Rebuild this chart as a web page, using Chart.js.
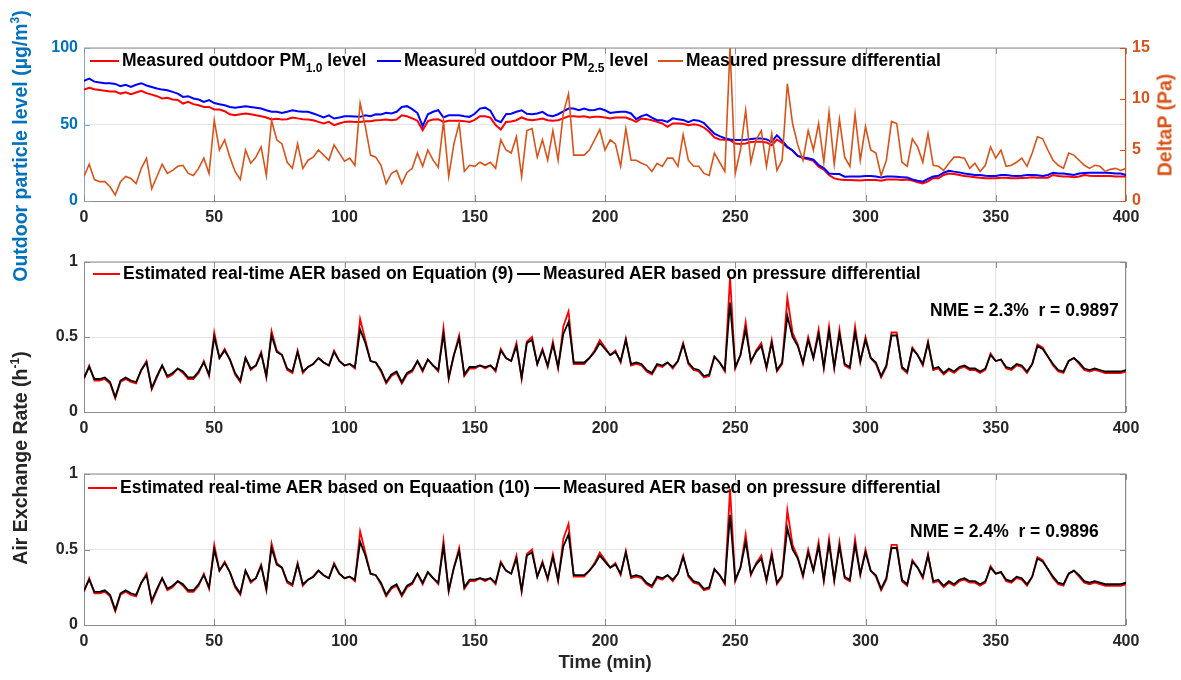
<!DOCTYPE html>
<html>
<head>
<meta charset="utf-8">
<script src="https://cdn.jsdelivr.net/npm/chart.js@4.4.0/dist/chart.umd.min.js"></script>
<style>
  body { margin: 0; background: #fff; width: 1181px; height: 680px; position: relative; overflow: hidden;
         font-family: "Liberation Sans", Arial, sans-serif; font-weight: bold; color: #000; }
  canvas { position: absolute; left: 0; }
  .lg { position: absolute; font-size: 17.5px; white-space: nowrap; line-height: 20px; transform: translateY(-50%); }
  .lg .ln { display: inline-block; height: 0; border-top: 2px solid; vertical-align: middle; margin-right: 3px; }
  .lg sub { font-size: 12px; line-height: 0; vertical-align: -6px; }
  .note { position: absolute; font-size: 17.5px; white-space: nowrap; transform: translateY(-50%); }
  .ytitle { position: absolute; white-space: nowrap; font-size: 19.5px; transform: translate(-50%, -50%) rotate(-90deg); }
  .ytitle sup { font-size: 12px; line-height: 0; }
  .xtitle { position: absolute; font-size: 18.5px; white-space: nowrap; transform: translate(-50%, -50%); color: #262626; }
</style>
</head>
<body>
<canvas id="pmChart" width="1181" height="229" style="top:0px"></canvas>
<canvas id="aer9Chart" width="1181" height="200" style="top:240px"></canvas>
<canvas id="aer10Chart" width="1181" height="203" style="top:450px"></canvas>

<!-- legends -->
<div class="lg" style="left:90px; top:60px"><span class="ln" style="width:29px; border-color:#ff0000"></span>Measured outdoor PM<sub>1.0</sub> level</div>
<div class="lg" style="left:377px; top:60px"><span class="ln" style="width:24px; border-color:#0000ff"></span>Measured outdoor PM<sub>2.5</sub> level</div>
<div class="lg" style="left:658px; top:60px"><span class="ln" style="width:25px; border-color:#d95319"></span>Measured pressure differential</div>

<div class="lg" style="left:93px; top:273px"><span class="ln" style="width:27px; border-color:#ff0000"></span>Estimated real-time AER based on Equation (9)</div>
<div class="lg" style="left:517px; top:273px"><span class="ln" style="width:23px; border-color:#000"></span>Measured AER based on pressure differential</div>
<div class="note" style="left:930px; top:310px">NME = 2.3%&nbsp; r = 0.9897</div>

<div class="lg" style="left:88px; top:487px"><span class="ln" style="width:29px; border-color:#ff0000"></span>Estimated real-time AER based on Equaation (10)</div>
<div class="lg" style="left:534px; top:487px"><span class="ln" style="width:26px; border-color:#000"></span>Measured AER based on pressure differential</div>
<div class="note" style="left:910px; top:531px">NME = 2.4%&nbsp; r = 0.9896</div>

<!-- axis titles -->
<div class="ytitle" style="left:20px; top:146px; color:#0072bd">Outdoor particle level (µg/m<sup>3</sup>)</div>
<div class="ytitle" style="left:1165px; top:125px; color:#d95319">DeltaP (Pa)</div>
<div class="ytitle" style="left:20px; top:458px; color:#262626">Air Exchange Rate (h<sup>-1</sup>)</div>
<div class="xtitle" style="left:605px; top:662px">Time (min)</div>

<script>
// sampling step of the readings (minutes)
const STEP = 2;

// outdoor PM1.0 (ug/m3), every 2 min from 0 to 400
const pm10 = [
  72.8, 74, 73, 72.5, 72, 71.5, 71.5, 70.2, 71, 69.8,
  70.9, 72, 70.5, 69.5, 68.5, 67, 67.5, 66.3, 66, 63.7,
  64.8, 63.3, 62.6, 61.5, 61.5, 59.8, 59.8, 58.7, 56.7, 56,
  56.7, 57.2, 56.7, 56, 55.4, 54.6, 53.3, 53.7, 53.3, 53.5,
  54.6, 54, 53.5, 53.3, 52.8, 51.7, 50.7, 51.7, 49.6, 50.7,
  51.7, 51.9, 51.7, 51.7, 52.2, 52.2, 52.8, 53, 53.3, 52.8,
  53.3, 56, 55.4, 54, 52.5, 46.3, 52.2, 53.3, 53.5, 51.7,
  52.4, 52.4, 52.4, 52.2, 51.7, 53, 55.4, 55.4, 54.5, 49.6,
  46.7, 51.7, 52, 52.8, 54.6, 53.3, 52.8, 53.3, 53.9, 52.8,
  52.4, 52.8, 54, 55.4, 55.4, 55, 55.4, 54.6, 55, 55,
  54.6, 54, 54.6, 54.6, 54.6, 53.3, 51.7, 53.9, 53.5, 52.8,
  51.7, 50.7, 48.5, 50.7, 50.7, 50.5, 49.6, 50.2, 49.6, 48,
  45.2, 41.5, 40.2, 40, 39.8, 37.6, 37.2, 37.6, 38.5, 38.7,
  38.7, 38.3, 36.5, 40.2, 38, 35, 33, 29.5, 28, 27.2,
  26.3, 22.4, 20.5, 17, 14.8, 14, 13.7, 13.7, 13.6, 13.4,
  13.7, 13.7, 13.7, 13.3, 14.1, 14.1, 14.1, 13.7, 14.1, 13.3,
  12.2, 11.5, 12.8, 15, 14.8, 17, 18, 17.6, 17, 16.3,
  16, 15.6, 15.2, 14.8, 14.8, 14.8, 15.2, 15.2, 14.8, 14.8,
  15, 15.2, 15.6, 15.2, 15.2, 15.2, 17, 16.3, 16, 16,
  15.6, 16, 17, 16.5, 16.3, 16.3, 16.3, 16.3, 16, 16,
  16
];

// outdoor PM2.5 (ug/m3)
const pm25 = [
  78.5, 80, 78, 77.5, 77, 77, 76.5, 75, 76, 74.5,
  76, 77, 75.5, 74.5, 73.5, 72.8, 72.4, 71.3, 70.2, 68,
  68.5, 67, 66.3, 64.8, 65.9, 64, 63.3, 62.6, 61.5, 61,
  61.5, 62, 61.5, 61, 60.4, 59.3, 58.3, 58.3, 57.6, 58.3,
  59.3, 58.7, 58.3, 58.3, 57.2, 56, 54.6, 56, 53.9, 54.6,
  55.4, 55.4, 55.2, 55, 56, 55.4, 56.7, 56.5, 57.6, 57.2,
  58.3, 61.5, 62, 60, 57.5, 49, 56.7, 58.3, 59.3, 54.6,
  56, 56, 56, 55.4, 55, 57, 60.4, 61, 59, 53,
  51.5, 56.7, 57, 58.3, 59.3, 57, 56.7, 57.2, 58.3, 56,
  55.4, 56.7, 58.5, 60.4, 60.4, 59.3, 60.4, 59.3, 59.5, 60.4,
  59.3, 57.6, 58, 58.3, 58.3, 57.2, 53.5, 55.5, 56.5, 54.5,
  52.8, 52.8, 51.7, 54, 53.5, 53, 51.5, 53, 52.5, 51,
  47.4, 44, 42.4, 41, 40.2, 39.8, 39.8, 40, 40.5, 40.9,
  40.9, 40.3, 38.7, 43, 39.5, 35.4, 33, 29.5, 28.5, 28,
  27, 23.5, 21.5, 18, 17.6, 17.6, 15.9, 16, 16, 16,
  16.3, 16.3, 16, 15.4, 16, 16, 15.8, 15.6, 15.4, 14.1,
  13.3, 12.6, 14.5, 16, 16.5, 18.5, 19.8, 19.2, 18.7, 18,
  17.5, 17, 17, 16.5, 16.3, 16.3, 17, 17, 16.5, 16.3,
  16.5, 17, 17, 16.8, 16.3, 17, 18.5, 18, 18, 17.5,
  17, 18, 18.3, 18.5, 18.5, 18.5, 18.5, 18.3, 18, 18,
  17
];

// measured pressure differential (Pa)
const deltaP = [
  2.4, 3.6, 2.1, 1.9, 1.9, 1.4, 0.6, 1.9, 2.4, 2.2,
  1.7, 3.2, 4.2, 1.2, 2.4, 3.6, 2.7, 3.0, 3.4, 3.5,
  2.7, 2.5, 3.2, 4.2, 2.7, 7.9, 5.0, 6.0, 4.3, 2.9,
  2.1, 5.0, 3.7, 4.3, 5.3, 2.5, 7.9, 6.0, 5.6, 3.8,
  3.2, 5.6, 3.2, 4.0, 4.3, 5.0, 4.5, 4.0, 5.5, 4.7,
  3.9, 4.2, 3.5, 9.6, 7.3, 4.5, 4.3, 3.5, 1.7, 2.7,
  3.0, 1.7, 2.8, 3.2, 4.7, 3.4, 5.0, 4.0, 3.3, 7.8,
  2.4, 5.6, 7.6, 2.9, 3.5, 3.4, 3.8, 3.5, 3.8, 3.2,
  6.0, 5.0, 4.7, 6.3, 2.4, 6.9, 7.1, 4.3, 6.0, 4.0,
  6.9, 4.0, 8.6, 10.5, 4.5, 4.5, 4.5, 5.0, 6.0, 7.0,
  5.0, 6.0, 5.6, 3.4, 7.1, 4.0, 4.0, 3.7, 3.5, 2.9,
  3.7, 3.4, 4.2, 4.2, 3.4, 6.5, 4.0, 3.4, 3.4, 2.7,
  2.5, 4.7, 3.8, 2.9, 15.0, 2.7, 5.0, 8.9, 3.8, 6.0,
  6.9, 3.4, 6.6, 3.0, 4.0, 11.5, 7.6, 5.5, 4.0, 6.9,
  5.0, 7.6, 3.8, 8.7, 3.6, 8.0, 4.3, 3.4, 8.5, 4.0,
  7.3, 5.0, 4.7, 2.5, 4.0, 7.8, 7.6, 3.8, 3.4, 6.1,
  5.3, 3.8, 6.6, 3.5, 3.4, 3.0, 3.7, 4.3, 4.3, 4.2,
  3.2, 3.7, 2.9, 3.5, 5.3, 4.2, 5.0, 3.4, 3.5, 3.8,
  4.2, 3.4, 4.7, 6.3, 6.1, 5.0, 4.0, 3.5, 3.2, 4.7,
  4.5, 4.0, 3.5, 3.2, 3.5, 3.4, 2.9, 3.1, 3.2, 3.0,
  3.2
];

// measured AER from pressure differential (1/h)
const aerMeasured = [
  0.23, 0.30, 0.22, 0.22, 0.23, 0.20, 0.10, 0.21, 0.23, 0.21,
  0.20, 0.28, 0.33, 0.16, 0.24, 0.31, 0.24, 0.26, 0.29, 0.27,
  0.23, 0.23, 0.27, 0.33, 0.25, 0.50, 0.36, 0.41, 0.35, 0.26,
  0.21, 0.36, 0.29, 0.31, 0.39, 0.24, 0.51, 0.40, 0.38, 0.29,
  0.27, 0.40, 0.27, 0.30, 0.32, 0.36, 0.33, 0.31, 0.40, 0.34,
  0.31, 0.32, 0.30, 0.55, 0.46, 0.34, 0.33, 0.28, 0.20, 0.25,
  0.27, 0.20, 0.26, 0.28, 0.34, 0.28, 0.35, 0.31, 0.28, 0.52,
  0.23, 0.38, 0.49, 0.25, 0.30, 0.30, 0.31, 0.30, 0.31, 0.28,
  0.41, 0.36, 0.34, 0.44, 0.23, 0.46, 0.48, 0.32, 0.41, 0.31,
  0.45, 0.30, 0.52, 0.60, 0.33, 0.33, 0.33, 0.36, 0.40, 0.46,
  0.42, 0.38, 0.40, 0.34, 0.48, 0.32, 0.33, 0.32, 0.28, 0.26,
  0.32, 0.31, 0.33, 0.30, 0.34, 0.45, 0.33, 0.29, 0.28, 0.24,
  0.25, 0.37, 0.33, 0.28, 0.73, 0.30, 0.38, 0.55, 0.34, 0.40,
  0.44, 0.30, 0.46, 0.28, 0.33, 0.64, 0.50, 0.44, 0.33, 0.48,
  0.36, 0.52, 0.30, 0.54, 0.30, 0.52, 0.32, 0.30, 0.53, 0.34,
  0.48, 0.36, 0.33, 0.24, 0.31, 0.51, 0.51, 0.30, 0.27, 0.42,
  0.38, 0.32, 0.46, 0.29, 0.30, 0.26, 0.29, 0.27, 0.30, 0.31,
  0.29, 0.29, 0.27, 0.29, 0.38, 0.34, 0.35, 0.30, 0.29, 0.32,
  0.31, 0.27, 0.32, 0.44, 0.42, 0.37, 0.32, 0.28, 0.27, 0.34,
  0.36, 0.33, 0.29, 0.28, 0.29, 0.28, 0.27, 0.27, 0.27, 0.27,
  0.28
];

// estimated real-time AER, Equation (9)
const aerEq9 = [
  0.22, 0.31, 0.21, 0.21, 0.22, 0.19, 0.09, 0.20, 0.22, 0.20,
  0.19, 0.28, 0.34, 0.15, 0.23, 0.31, 0.23, 0.25, 0.29, 0.26,
  0.22, 0.22, 0.26, 0.34, 0.24, 0.53, 0.36, 0.42, 0.35, 0.25,
  0.20, 0.36, 0.28, 0.31, 0.40, 0.23, 0.54, 0.41, 0.38, 0.28,
  0.26, 0.41, 0.26, 0.30, 0.32, 0.36, 0.33, 0.31, 0.41, 0.34,
  0.31, 0.32, 0.29, 0.62, 0.48, 0.34, 0.33, 0.27, 0.19, 0.24,
  0.26, 0.19, 0.25, 0.27, 0.34, 0.27, 0.35, 0.31, 0.27, 0.56,
  0.22, 0.38, 0.51, 0.24, 0.29, 0.29, 0.31, 0.29, 0.31, 0.27,
  0.42, 0.36, 0.34, 0.46, 0.22, 0.47, 0.50, 0.32, 0.42, 0.30,
  0.47, 0.29, 0.57, 0.67, 0.32, 0.32, 0.32, 0.36, 0.41, 0.48,
  0.43, 0.38, 0.41, 0.33, 0.49, 0.31, 0.32, 0.31, 0.27, 0.25,
  0.31, 0.30, 0.33, 0.29, 0.34, 0.46, 0.32, 0.28, 0.27, 0.23,
  0.24, 0.37, 0.33, 0.27, 0.90, 0.29, 0.38, 0.60, 0.33, 0.41,
  0.46, 0.29, 0.48, 0.27, 0.32, 0.76, 0.53, 0.45, 0.32, 0.50,
  0.36, 0.55, 0.29, 0.57, 0.29, 0.55, 0.31, 0.29, 0.57, 0.33,
  0.50, 0.36, 0.32, 0.23, 0.30, 0.53, 0.53, 0.29, 0.26, 0.43,
  0.38, 0.31, 0.47, 0.28, 0.29, 0.25, 0.28, 0.26, 0.29, 0.30,
  0.28, 0.28, 0.26, 0.28, 0.39, 0.34, 0.35, 0.29, 0.28, 0.31,
  0.30, 0.26, 0.32, 0.45, 0.43, 0.37, 0.31, 0.27, 0.26, 0.34,
  0.36, 0.32, 0.28, 0.27, 0.28, 0.27, 0.26, 0.26, 0.26, 0.26,
  0.27
];

// Equation (10) estimate reads the same as Equation (9) in the picture
const aerEq10 = aerEq9;

const minutes = pm10.map((_, i) => i * STEP);
const pts = (arr) => arr.map((v, i) => ({ x: minutes[i], y: v }));

const FONT = '"Liberation Sans", Arial, sans-serif';
const tickFont = { family: FONT, size: 16, weight: 'bold' };

// frame around each plot area, MATLAB style with small inward ticks
const boxPlugin = {
  id: 'box',
  beforeDatasetsDraw(chart, args, opts) {
    const { ctx, chartArea: a, scales } = chart;
    ctx.save();
    ctx.lineWidth = 1;
    ctx.strokeStyle = opts.color || '#8c8c8c';
    ctx.beginPath();
    ctx.moveTo(a.left, a.top); ctx.lineTo(a.right, a.top);
    ctx.moveTo(a.left, a.bottom + 0.5); ctx.lineTo(a.right, a.bottom + 0.5);
    ctx.stroke();
    ctx.strokeStyle = opts.leftColor || '#8c8c8c';
    ctx.beginPath(); ctx.moveTo(a.left + 0.5, a.top); ctx.lineTo(a.left + 0.5, a.bottom); ctx.stroke();
    ctx.strokeStyle = opts.rightColor || '#8c8c8c';
    ctx.beginPath(); ctx.moveTo(a.right - 0.5, a.top); ctx.lineTo(a.right - 0.5, a.bottom); ctx.stroke();

    // inward ticks
    ctx.strokeStyle = '#8c8c8c';
    ctx.beginPath();
    scales.x.ticks.forEach((t) => {
      const px = Math.round(scales.x.getPixelForValue(t.value)) + 0.5;
      ctx.moveTo(px, a.bottom); ctx.lineTo(px, a.bottom - 6);
      ctx.moveTo(px, a.top); ctx.lineTo(px, a.top + 6);
    });
    ctx.stroke();
    ctx.strokeStyle = opts.leftColor || '#8c8c8c';
    ctx.beginPath();
    scales.y.ticks.forEach((t) => {
      const py = Math.round(scales.y.getPixelForValue(t.value)) + 0.5;
      ctx.moveTo(a.left, py); ctx.lineTo(a.left + 6, py);
      if (!scales.y1.options.ticks.display) { ctx.moveTo(a.right, py); ctx.lineTo(a.right - 6, py); }
    });
    ctx.stroke();
    if (scales.y1.options.ticks.display) {
      ctx.strokeStyle = opts.rightColor;
      ctx.beginPath();
      scales.y1.ticks.forEach((t) => {
        const py = Math.round(scales.y1.getPixelForValue(t.value)) + 0.5;
        ctx.moveTo(a.right, py); ctx.lineTo(a.right - 6, py);
      });
      ctx.stroke();
    }
    ctx.restore();
  }
};

function xAxis() {
  return {
    type: 'linear', min: 0, max: 400,
    ticks: { stepSize: 50, color: '#262626', font: tickFont, padding: 7, maxRotation: 0 },
    grid: { color: '#e4e4e4', drawTicks: false },
    border: { display: false },
    afterFit: (s) => { s.height = 28; }
  };
}

function leftAxis(min, max, step, color) {
  return {
    position: 'left', min: min, max: max,
    ticks: { stepSize: step, color: color, font: tickFont, padding: 6,
             callback: (v) => String(Math.round(v * 10) / 10) },
    grid: { color: '#e4e4e4', drawTicks: false },
    border: { display: false },
    afterFit: (s) => { s.width = 84; }
  };
}

function rightAxis(min, max, step, color, show) {
  return {
    position: 'right', min: min, max: max,
    ticks: { display: show, stepSize: step, color: color, font: tickFont, padding: 6 },
    grid: { display: false, drawTicks: false },
    border: { display: false },
    afterFit: (s) => { s.width = 55; }
  };
}

function line(label, data, color, width, axis) {
  return {
    label: label, data: pts(data), borderColor: color, borderWidth: width,
    pointRadius: 0, tension: 0, fill: false, yAxisID: axis || 'y'
  };
}

const baseOptions = (padTop, scales, box) => ({
  responsive: false,
  animation: false,
  layout: { padding: { top: padTop, left: 0, right: 0, bottom: 0 } },
  plugins: { legend: { display: false }, tooltip: { enabled: false }, box: box },
  scales: scales
});

// top panel: outdoor particles and pressure differential
new Chart(document.getElementById('pmChart'), {
  type: 'line',
  data: {
    datasets: [
      line('Measured pressure differential', deltaP, '#d95319', 1.6, 'y1'),
      line('Measured outdoor PM2.5 level', pm25, '#0000ff', 2),
      line('Measured outdoor PM1.0 level', pm10, '#ff0000', 2)
    ]
  },
  options: baseOptions(48, {
    x: xAxis(),
    y: leftAxis(0, 100, 50, '#0072bd'),
    y1: rightAxis(0, 15, 5, '#d95319', true)
  }, { leftColor: '#7fa8cc', rightColor: '#d95319' }),
  plugins: [boxPlugin]
});

// middle panel: Equation (9)
new Chart(document.getElementById('aer9Chart'), {
  type: 'line',
  data: {
    datasets: [
      line('Measured AER based on pressure differential', aerMeasured, '#000000', 1.8),
      line('Estimated real-time AER based on Equation (9)', aerEq9, '#ff0000', 1.8)
    ]
  },
  options: baseOptions(22, {
    x: xAxis(),
    y: leftAxis(0, 1, 0.5, '#262626'),
    y1: rightAxis(0, 1, 0.5, '#262626', false)
  }, {}),
  plugins: [boxPlugin]
});

// bottom panel: Equation (10)
new Chart(document.getElementById('aer10Chart'), {
  type: 'line',
  data: {
    datasets: [
      line('Measured AER based on pressure differential', aerMeasured, '#000000', 1.8),
      line('Estimated real-time AER based on Equaation (10)', aerEq10, '#ff0000', 1.8)
    ]
  },
  options: baseOptions(24, {
    x: xAxis(),
    y: leftAxis(0, 1, 0.5, '#262626'),
    y1: rightAxis(0, 1, 0.5, '#262626', false)
  }, {}),
  plugins: [boxPlugin]
});
</script>
</body>
</html>
